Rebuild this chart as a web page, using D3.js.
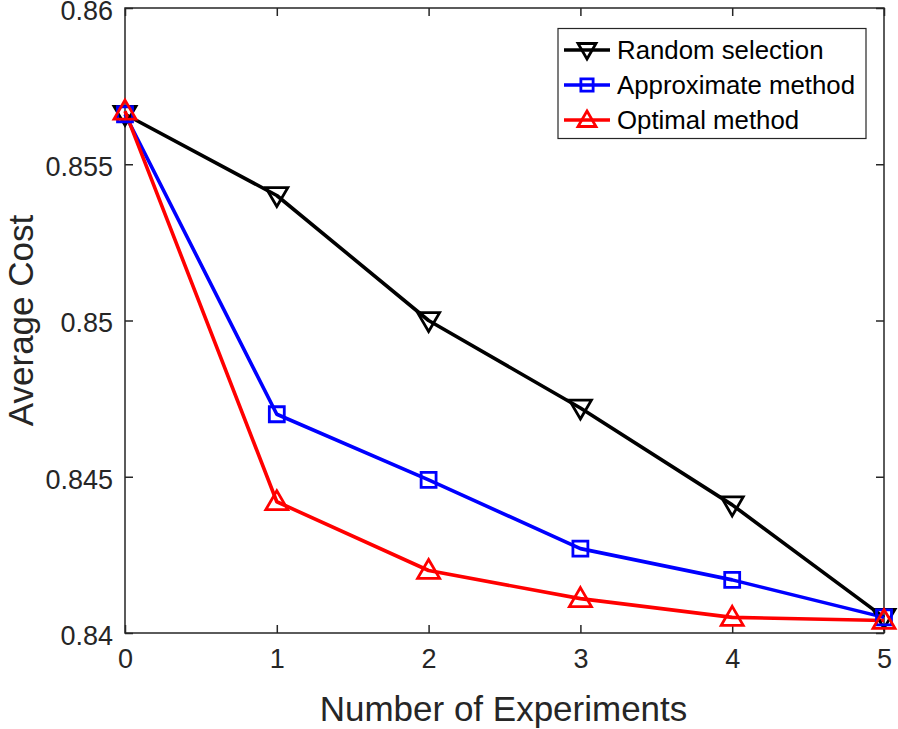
<!DOCTYPE html>
<html><head><meta charset="utf-8">
<script src="https://cdn.jsdelivr.net/npm/d3@7"></script>
<style>body{margin:0;background:#fff}svg{display:block}text{font-family:"Liberation Sans",Arial,Helvetica,sans-serif;fill:#262626}</style>
</head><body>
<script>
const xValues = [0, 1, 2, 3, 4, 5];
const randomSel = [0.8566, 0.8540, 0.8500, 0.8472, 0.8441, 0.8405];
const approxMethod = [0.8566, 0.8470, 0.8449, 0.8427, 0.8417, 0.8405];
const optimalMethod = [0.8567, 0.8442, 0.8420, 0.8411, 0.8405, 0.8404];
const seriesNames = ["Random selection", "Approximate method", "Optimal method"];
const seriesColors = ["#000000", "#0000ff", "#ff0000"];
const seriesMarkers = ["tridown", "square", "triup"];
const yTicks = [0.84, 0.845, 0.85, 0.855, 0.86];
const xTicks = [0, 1, 2, 3, 4, 5];

const W = 898, H = 729;
const m = {l: 125, r: 898 - 884, t: 8, b: 729 - 633};
const svg = d3.select("body").append("svg").attr("width", W).attr("height", H);
const x = d3.scaleLinear().domain([0, 5]).range([m.l, W - m.r]);
const y = d3.scaleLinear().domain([0.84, 0.86]).range([H - m.b, m.t]);
const axisColor = "#262626";

svg.append("rect").attr("x", x(0)).attr("y", y(0.86)).attr("width", x(5) - x(0)).attr("height", y(0.84) - y(0.86))
  .attr("fill", "none").attr("stroke", axisColor).attr("stroke-width", 1.5);

const tl = 8;
const gx = svg.append("g").attr("transform", `translate(0,${y(0.84)})`)
  .call(d3.axisBottom(x).tickValues(xTicks).tickSize(-tl).tickPadding(16).tickFormat(d3.format("d")));
const gxt = svg.append("g").attr("transform", `translate(0,${y(0.86)})`)
  .call(d3.axisTop(x).tickValues(xTicks).tickSize(-tl).tickFormat(""));
const gy = svg.append("g").attr("transform", `translate(${x(0)},0)`)
  .call(d3.axisLeft(y).tickValues(yTicks).tickSize(-tl).tickPadding(12).tickFormat(d => String(+d.toFixed(3))));
const gyr = svg.append("g").attr("transform", `translate(${x(5)},0)`)
  .call(d3.axisRight(y).tickValues(yTicks).tickSize(-tl).tickFormat(""));
[gx, gxt, gy, gyr].forEach(g => {
  g.select(".domain").remove();
  g.selectAll(".tick line").attr("stroke", axisColor).attr("stroke-width", 1.5);
  g.selectAll(".tick text").style("font-size", "27px").attr("fill", axisColor);
});
gy.selectAll(".tick text").attr("dy", "0.42em");

function markerPath(type, s) {
  const h = s / 2;
  if (type === "square") { const q = s * 0.34; return `M${-q},${-q}H${q}V${q}H${-q}Z`; }
  if (type === "triup") return `M0,${-h}L${h},${h * 0.72}L${-h},${h * 0.72}Z`;
  return `M0,${h}L${h},${-h * 0.72}L${-h},${-h * 0.72}Z`;
}

const allSeries = [randomSel, approxMethod, optimalMethod];
const line = d3.line().x((d, i) => x(xValues[i])).y(d => y(d));
allSeries.forEach((vals, si) => {
  svg.append("path").datum(vals).attr("d", line).attr("fill", "none")
    .attr("stroke", seriesColors[si]).attr("stroke-width", 3.6).attr("stroke-linejoin", "round");
});
allSeries.forEach((vals, si) => {
  svg.selectAll(null).data(vals).enter().append("path")
    .attr("transform", (d, i) => `translate(${x(xValues[i])},${y(d)})`)
    .attr("d", markerPath(seriesMarkers[si], 22)).attr("fill", "none")
    .attr("stroke", seriesColors[si]).attr("stroke-width", 2.8);
});

// legend
const lg = svg.append("g");
lg.append("rect").attr("x", 558).attr("y", 28.5).attr("width", 308).attr("height", 110)
  .attr("fill", "#fff").attr("stroke", axisColor).attr("stroke-width", 1.2);
seriesNames.forEach((n, i) => {
  const cy = 50 + i * 35;
  lg.append("line").attr("x1", 564).attr("x2", 610).attr("y1", cy).attr("y2", cy)
    .attr("stroke", seriesColors[i]).attr("stroke-width", 3.6);
  lg.append("path").attr("transform", `translate(587,${cy})`).attr("d", markerPath(seriesMarkers[i], 18))
    .attr("fill", "none").attr("stroke", seriesColors[i]).attr("stroke-width", 2.8);
  lg.append("text").attr("x", 617).attr("y", cy).attr("dy", "0.36em").style("font-size", "25.8px")
    .style("fill", "#000").text(n);
});

svg.append("text").attr("x", (x(0) + x(5)) / 2 - 1).attr("y", 721).attr("text-anchor", "middle")
  .style("font-size", "35px").text("Number of Experiments");
svg.append("text").attr("transform", `translate(33,${(y(0.84) + y(0.86)) / 2}) rotate(-90)`)
  .attr("text-anchor", "middle").style("font-size", "35px").text("Average Cost");
</script>
</body></html>
